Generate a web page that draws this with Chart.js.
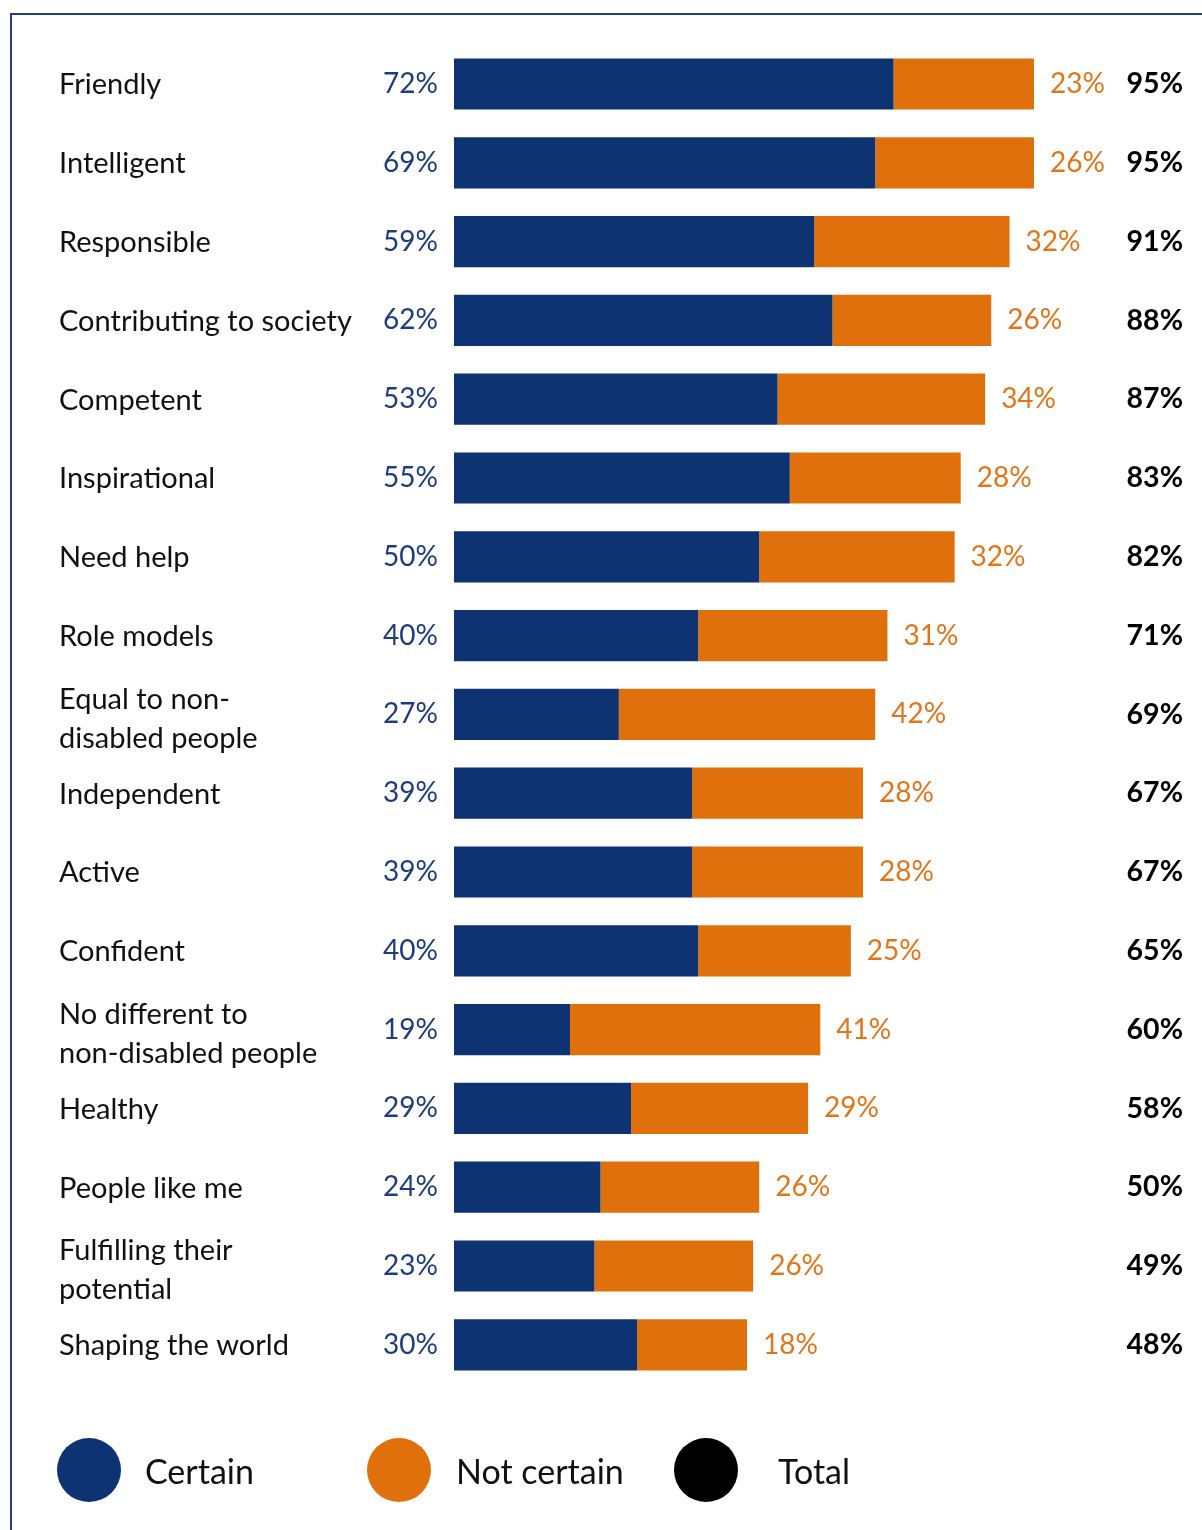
<!DOCTYPE html>
<html>
<head>
<meta charset="utf-8">
<title>Perceptions of disabled people</title>
<script src="https://cdn.jsdelivr.net/npm/chart.js@4/dist/chart.umd.min.js"></script>
<style>
  html, body { margin: 0; padding: 0; background: #ffffff; }
  #wrap { position: relative; width: 1202px; height: 1530px; }
  #frame {
    position: absolute; left: 10px; top: 13px; right: 0; bottom: 0;
    border-top: 2px solid #223f85; border-left: 2px solid #223f85;
    pointer-events: none;
  }
</style>
</head>
<body>
<div id="wrap">
  <canvas id="chart" width="1202" height="1530"></canvas>
  <div id="frame"></div>
</div>
<script>
// Attributes, one row each (multi-line labels as arrays)
const categories = [
  "Friendly",
  "Intelligent",
  "Responsible",
  "Contributing to society",
  "Competent",
  "Inspirational",
  "Need help",
  "Role models",
  ["Equal to non-", "disabled people"],
  "Independent",
  "Active",
  "Confident",
  ["No different to", "non-disabled people"],
  "Healthy",
  "People like me",
  ["Fulfilling their", "potential"],
  "Shaping the world"
];

// Percent certain / not certain, and the combined total
const certain    = [72, 69, 59, 62, 53, 55, 50, 40, 27, 39, 39, 40, 19, 29, 24, 23, 30];
const notCertain = [23, 26, 32, 26, 34, 28, 32, 31, 42, 28, 28, 25, 41, 29, 26, 26, 18];
const total      = [95, 95, 91, 88, 87, 83, 82, 71, 69, 67, 67, 65, 60, 58, 50, 49, 48];

const seriesNames = ["Certain", "Not certain", "Total"];

const BLUE = "#0e3373";
const ORANGE = "#e0700b";
const BLUE_TEXT = "#1d3c7e";
const ORANGE_TEXT = "#e27519";
const FONT = "Lato, 'Open Sans', sans-serif";

// Row labels, value labels and the legend are painted on the canvas
const annotate = {
  id: "annotate",
  afterDatasetsDraw(chart) {
    const ctx = chart.ctx;
    const xs = chart.scales.x;
    const ys = chart.scales.y;
    ctx.save();
    ctx.textBaseline = "middle";
    categories.forEach((cat, i) => {
      const y = ys.getPixelForValue(i);
      // category label
      ctx.font = "29px " + FONT;
      ctx.fillStyle = "#111111";
      ctx.textAlign = "left";
      if (Array.isArray(cat)) {
        ctx.fillText(cat[0], 59, y - 15);
        ctx.fillText(cat[1], 59, y + 24);
      } else {
        ctx.fillText(cat, 59, y + 1);
      }
      // certain value, left of the bar
      ctx.font = "28px " + FONT;
      ctx.fillStyle = BLUE_TEXT;
      ctx.textAlign = "right";
      ctx.fillText(certain[i] + "%", xs.left - 16, y);
      // not-certain value, after the stacked bar
      ctx.fillStyle = ORANGE_TEXT;
      ctx.textAlign = "left";
      ctx.fillText(notCertain[i] + "%", xs.getPixelForValue(certain[i] + notCertain[i]) + 16, y);
      // total, right column
      ctx.font = "bold 28.5px " + FONT;
      ctx.fillStyle = "#000000";
      ctx.textAlign = "right";
      ctx.fillText(total[i] + "%", 1183, y);
    });

    // legend
    const legendColors = [BLUE, ORANGE, "#000000"];
    const dotX = [89, 399, 706];
    const textX = [145, 456, 778];
    const ly = 1470;
    ctx.font = "34px " + FONT;
    ctx.textAlign = "left";
    seriesNames.forEach((name, k) => {
      ctx.beginPath();
      ctx.arc(dotX[k], ly, 32, 0, Math.PI * 2);
      ctx.fillStyle = legendColors[k];
      ctx.fill();
      ctx.fillStyle = "#111111";
      ctx.fillText(name, textX[k], ly + 3);
    });
    ctx.restore();
  }
};

new Chart(document.getElementById("chart"), {
  type: "bar",
  data: {
    labels: categories,
    datasets: [
      { label: seriesNames[0], data: certain, backgroundColor: BLUE, borderWidth: 0 },
      { label: seriesNames[1], data: notCertain, backgroundColor: ORANGE, borderWidth: 0 }
    ]
  },
  options: {
    indexAxis: "y",
    responsive: false,
    animation: false,
    layout: { padding: { left: 454, right: 137.5, top: 44.6, bottom: 145.8 } },
    datasets: { bar: { categoryPercentage: 1, barPercentage: 0.65 } },
    scales: {
      x: { stacked: true, min: 0, max: 100, display: false },
      y: { stacked: true, display: false }
    },
    plugins: {
      legend: { display: false },
      tooltip: { enabled: false }
    }
  },
  plugins: [annotate]
});
</script>
</body>
</html>
